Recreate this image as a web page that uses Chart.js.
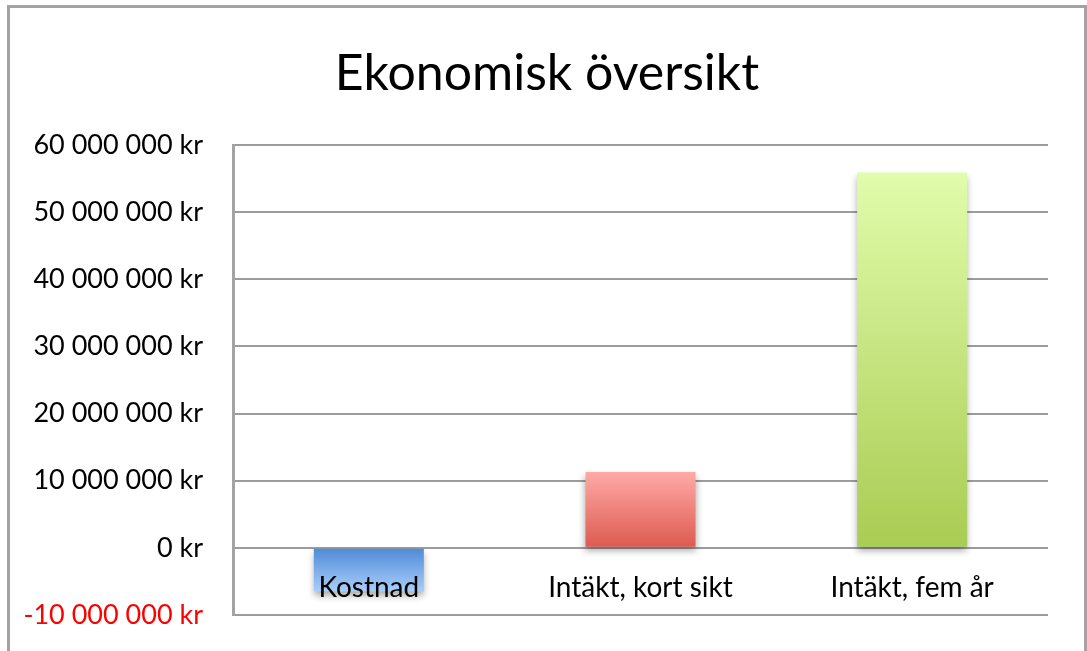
<!DOCTYPE html>
<html>
<head>
<meta charset="utf-8">
<script src="https://cdn.jsdelivr.net/npm/chart.js@4"></script>
<style>
  html, body { margin: 0; padding: 0; background: #fff; overflow: hidden; }
  #frame { position: absolute; left: 7px; top: 5px; width: 1080px; height: 700px; border: 3px solid #a3a3a3; box-sizing: border-box; pointer-events: none; }
  canvas { position: absolute; left: 0; top: 0; }
</style>
</head>
<body>
<canvas id="myChart" width="1087" height="651"></canvas>
<div id="frame"></div>
<script>
// chart data
const chartTitle = 'Ekonomisk översikt';
const categories = ['Kostnad', 'Intäkt, kort sikt', 'Intäkt, fem år'];
const amounts = [-6500000, 11300000, 55900000];
const yTicks = [-10000000, 0, 10000000, 20000000, 30000000, 40000000, 50000000, 60000000];

// gradient colours: [at zero line, at bar end]
const barColours = [
    ['#4e8ad6', '#a8cefb'],
    ['#dc5a4f', '#ffaaa7'],
    ['#a9cc53', '#e1fcab']
];

const FONT = 'Lato, "Open Sans", sans-serif';

function formatKr(v) {
    const neg = v < 0;
    const s = Math.abs(v).toString().replace(/\B(?=(\d{3})+(?!\d))/g, ' ');
    return (neg ? '-' : '') + s + ' kr';
}

function barGradient(ctx) {
    const chart = ctx.chart;
    if (!chart.chartArea) return barColours[ctx.dataIndex][0];
    const y = chart.scales.y;
    const y0 = y.getPixelForValue(0);
    const y1 = y.getPixelForValue(amounts[ctx.dataIndex]);
    const g = chart.ctx.createLinearGradient(0, y0, 0, y1);
    g.addColorStop(0, barColours[ctx.dataIndex][0]);
    g.addColorStop(1, barColours[ctx.dataIndex][1]);
    return g;
}

// soft drop shadow under the bars
const barShadow = {
    id: 'barShadow',
    beforeDatasetsDraw(chart) {
        const c = chart.ctx;
        c.save();
        c.shadowColor = 'rgba(0,0,0,0.35)';
        c.shadowBlur = 7;
        c.shadowOffsetX = 0;
        c.shadowOffsetY = 4;
    },
    afterDatasetsDraw(chart) {
        chart.ctx.restore();
    }
};

// title + category labels drawn on top of the bars (like the original)
const overlayText = {
    id: 'overlayText',
    afterDraw(chart) {
        const c = chart.ctx;
        const x = chart.scales.x;
        const y0 = chart.scales.y.getPixelForValue(0);
        c.save();
        c.fillStyle = '#000';
        c.textAlign = 'center';
        c.textBaseline = 'middle';
        c.font = '50px ' + FONT;
        c.fillText(chartTitle, 547, 74);
        c.font = '28px ' + FONT;
        categories.forEach((lab, i) => {
            c.fillText(lab, x.getPixelForValue(i), y0 + 40);
        });
        c.restore();
    }
};

const config = {
    type: 'bar',
    data: {
        labels: categories,
        datasets: [{
            data: amounts,
            backgroundColor: barGradient,
            borderWidth: 0,
            categoryPercentage: 1,
            barPercentage: 0.405
        }]
    },
    options: {
        responsive: false,
        animation: false,
        layout: { padding: { top: 145, right: 39, bottom: 36, left: 0 } },
        plugins: {
            legend: { display: false },
            tooltip: { enabled: false },
            title: { display: false }
        },
        scales: {
            x: {
                display: false
            },
            y: {
                min: -10000000,
                max: 60000000,
                afterBuildTicks: scale => { scale.ticks = yTicks.map(v => ({ value: v })); },
                afterFit: scale => {
                    scale.width = 233;
                    scale.paddingTop = 0;
                    scale.paddingBottom = 0;
                },
                grid: { color: '#9c9c9c', lineWidth: 2, drawTicks: false },
                border: { display: true, color: '#a3a3a3', width: 3 },
                ticks: {
                    padding: 30,
                    color: ctx => ctx.tick.value < 0 ? '#ff0000' : '#000',
                    font: { family: FONT, size: 27 },
                    callback: v => formatKr(v)
                }
            }
        }
    },
    plugins: [barShadow, overlayText]
};

const myChart = new Chart(document.getElementById('myChart'), config);
</script>
</body>
</html>
